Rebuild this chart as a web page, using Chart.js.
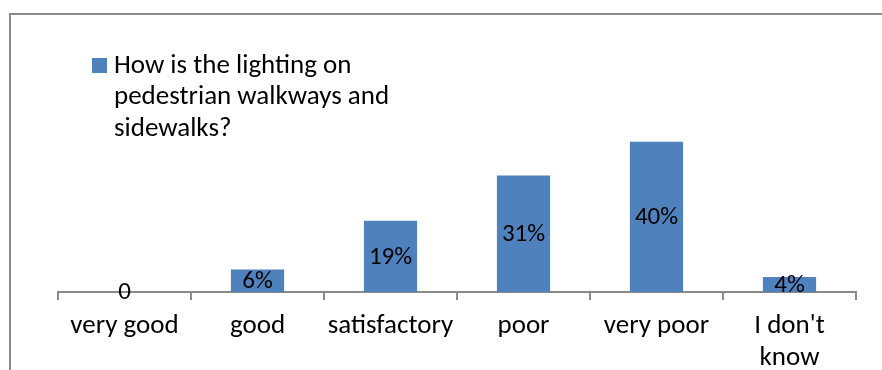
<!DOCTYPE html>
<html lang="en">
<head>
  <meta charset="UTF-8" />
  <title>Lighting on pedestrian walkways</title>
  <script src="https://cdn.jsdelivr.net/npm/chart.js"></script>
  <style>
    html, body {
      margin: 0;
      padding: 0;
      background: #ffffff;
      overflow: hidden;
    }
    .wrap {
      position: relative;
      width: 882px;
      height: 370px;
    }
    /* grey chart frame, cropped at right and bottom */
    .frame {
      position: absolute;
      left: 9px;
      top: 13px;
      width: 900px;
      height: 400px;
      border-left: 2px solid #8a8a8a;
      border-top: 2px solid #8a8a8a;
    }
    canvas {
      position: absolute;
      left: 0;
      top: 0;
    }
  </style>
</head>
<body>
  <div class="wrap">
    <div class="frame"></div>
    <canvas id="chart" width="882" height="370"></canvas>
  </div>

  <script>
    const FONT = "Carlito, Lato, 'Open Sans', sans-serif";

    // data
    const categories = ['very good', 'good', 'satisfactory', 'poor', 'very poor', ["I don't", 'know']];
    const percents = [0, 6, 19, 31, 40, 4];
    const legendLines = ['How is the lighting on', 'pedestrian walkways and', 'sidewalks?'];

    // value labels in the middle of each bar
    const barLabels = {
      id: 'barLabels',
      afterDatasetsDraw(chart) {
        const ctx = chart.ctx;
        const meta = chart.getDatasetMeta(0);
        ctx.save();
        ctx.font = '25px ' + FONT;
        ctx.fillStyle = '#000';
        ctx.textAlign = 'center';
        ctx.textBaseline = 'middle';
        meta.data.forEach((bar, i) => {
          const v = percents[i];
          const txt = v === 0 ? '0' : v + '%';
          ctx.fillText(txt, bar.x, (bar.y + bar.base) / 2 + 1);
        });
        ctx.restore();
      }
    };

    // legend with wrapped text, like the spreadsheet one
    const wrappedLegend = {
      id: 'wrappedLegend',
      afterDraw(chart) {
        const ctx = chart.ctx;
        ctx.save();
        ctx.fillStyle = chart.data.datasets[0].backgroundColor;
        ctx.fillRect(92, 58, 15, 15);
        ctx.font = '27px ' + FONT;
        ctx.fillStyle = '#000';
        ctx.textAlign = 'left';
        ctx.textBaseline = 'middle';
        legendLines.forEach((line, i) => {
          ctx.fillText(line, 114, 66 + i * 31.5);
        });
        ctx.restore();
      }
    };

    new Chart(document.getElementById('chart'), {
      type: 'bar',
      data: {
        labels: categories,
        datasets: [{
          label: legendLines.join(' '),
          data: percents,
          backgroundColor: '#4f81bd',
          borderWidth: 0,
          categoryPercentage: 1,
          barPercentage: 0.4
        }]
      },
      options: {
        responsive: false,
        animation: false,
        layout: { padding: { left: 58, right: 26, top: 123, bottom: 0 } },
        plugins: {
          legend: { display: false },
          tooltip: { enabled: false }
        },
        scales: {
          x: {
            grid: {
              offset: true,
              drawOnChartArea: false,
              drawTicks: true,
              tickLength: 8,
              color: '#8a8a8a',
              lineWidth: 2
            },
            border: { display: true, color: '#8a8a8a', width: 2 },
            ticks: {
              color: '#000',
              font: { family: FONT, size: 27, lineHeight: 1.2 },
              padding: 10,
              maxRotation: 0,
              autoSkip: false
            },
            afterFit(scale) { scale.height = 78; }
          },
          y: {
            display: false,
            min: 0,
            max: 45
          }
        }
      },
      plugins: [barLabels, wrappedLegend]
    });
  </script>
</body>
</html>
